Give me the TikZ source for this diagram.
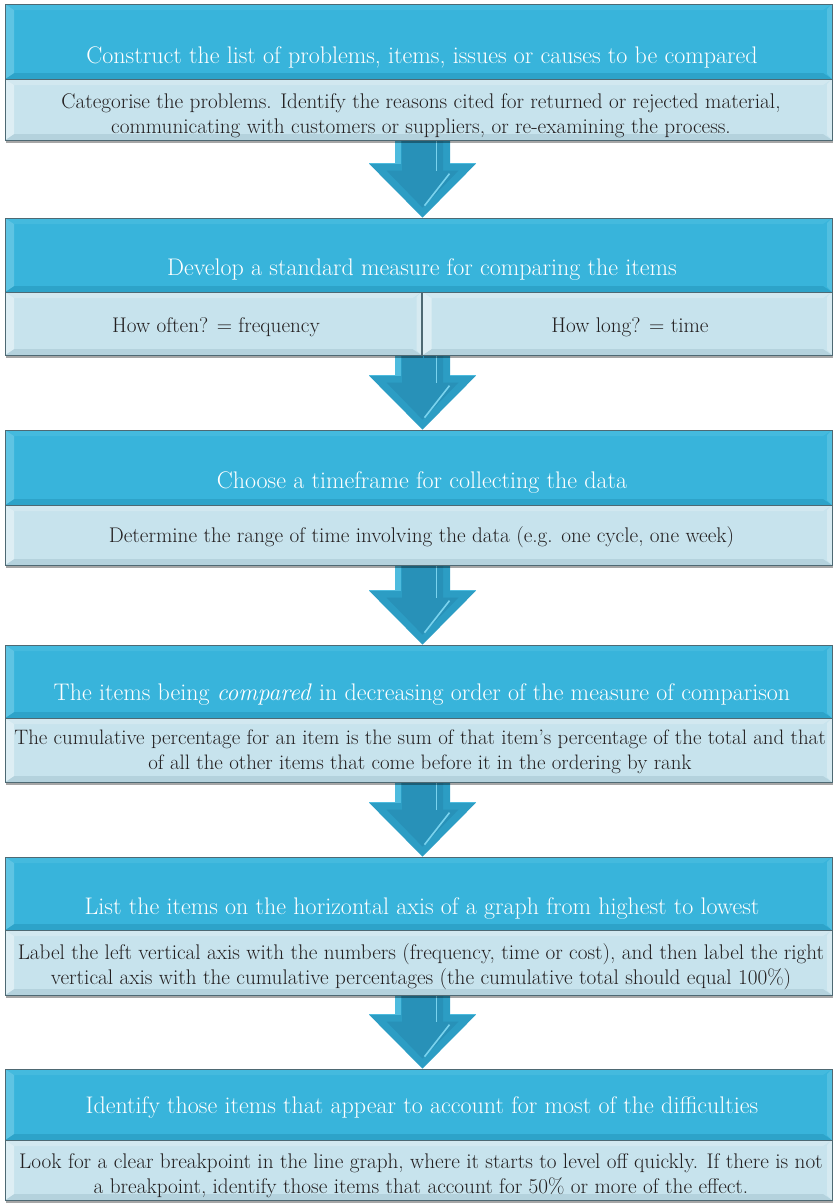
\documentclass[tikz,border=0pt]{standalone}
\usepackage{fontspec}
\setmainfont{Latin Modern Roman}
\usetikzlibrary{calc,shadows,backgrounds}

\definecolor{Hbase}{HTML}{38B4DB}
\definecolor{Hlight}{HTML}{5EC4E3}
\definecolor{Htop}{HTML}{44BADE}
\definecolor{Hdark}{HTML}{2DA3C9}
\definecolor{Sbase}{HTML}{C7E3ED}
\definecolor{Slight}{HTML}{DDEEF4}
\definecolor{Stop}{HTML}{D2E8F0}
\definecolor{Sdark}{HTML}{B4D2DD}
\definecolor{edge}{HTML}{4E6973}
\definecolor{subtext}{HTML}{231F20}
\definecolor{Abase}{HTML}{2C9DC4}
\definecolor{Ainner}{HTML}{2891B8}
\definecolor{Alight}{HTML}{4DBBDE}
\definecolor{Ahigh}{HTML}{7AD3EE}

% bevelled edges of a panel: #1 side colour, #2 top colour, #3 bottom colour
\tikzset{
  bevel/.style n args={3}{path picture={
    \path (path picture bounding box.north west) coordinate (pnw)
          (path picture bounding box.north east) coordinate (pne)
          (path picture bounding box.south west) coordinate (psw)
          (path picture bounding box.south east) coordinate (pse);
    \fill[#2] (pnw) -- (pne) -- ($(pne)+(-9pt,-6pt)$) -- ($(pnw)+(9pt,-6pt)$) -- cycle;
    \fill[#3] (psw) -- (pse) -- ($(pse)+(-9pt,6pt)$) -- ($(psw)+(9pt,6pt)$) -- cycle;
    \fill[#1] (pnw) -- ($(pnw)+(9pt,-6pt)$) -- ($(psw)+(9pt,6pt)$) -- (psw) -- cycle;
    \fill[#1,opacity=0.7] (pne) -- (pse) -- ($(pse)+(-5pt,5pt)$) -- ($(pne)+(-5pt,-5pt)$) -- cycle;
  }},
  panel/.style={rectangle, draw=edge, line width=0.7pt, inner sep=0pt,
    minimum width=827pt,
    drop shadow={shadow xshift=1pt, shadow yshift=-2.5pt, opacity=0.35, fill=black}},
  hdr/.style={panel, fill=Hbase, bevel={Hlight}{Htop}{Hdark}},
  subbox/.style={panel, fill=Sbase, bevel={Slight}{Stop}{Sdark}},
  ttl/.style={text=white, font=\fontsize{24pt}{28pt}\selectfont, inner sep=0pt},
  txt/.style={text=subtext, font=\fontsize{21.2pt}{25pt}\selectfont, align=center, inner sep=0pt},
}

% block arrow whose tip touches the top of panel #1
\newcommand{\flowarrow}[1]{%
  \begin{scope}[shift={($(#1.north)+(4pt,0)$)}]
    \fill[Abase] (-27.5,-95) -- (27.5,-95) -- (27.5,-54) -- (53.5,-54) -- (0,0)
      -- (-53.5,-54) -- (-27.5,-54) -- cycle;
    \fill[Ainner] (-20.5,-95) -- (20.5,-95) -- (20.5,-47) -- (36,-47) -- (0,-10)
      -- (-36,-47) -- (-20.5,-47) -- cycle;
    \fill[Alight] (-27.5,-95) rectangle (-21.5,-54);
    \draw[Ahigh, line width=1.6pt] (14,-95) -- (14,-47);
    \draw[Ahigh, line width=1.6pt] (27,-44) -- (2,-12);
    \draw[Alight, line width=1pt] (-53.5,-54) -- (-27.5,-54);
    \draw[Alight, line width=1pt] (27.5,-54) -- (53.5,-54);
  \end{scope}}

\begin{document}
\begin{tikzpicture}[x=1pt,y=-1pt]
\useasboundingbox (0,0) rectangle (833,1203);

% step 1
\node[hdr, minimum height=75pt] (h1) at (418.5,41.5) {};
\node[subbox, minimum height=61pt] (s1) at (418.5,109.5) {};
\node[ttl] (t1) at (422,57) {Construct the list of problems, items, issues or causes to be compared};
\node[txt] (d1) at (421,116) {Categorise the problems. Identify the reasons cited for returned or rejected material,\\
  communicating with customers or suppliers, or re-examining the process.};

% step 2
\node[hdr, minimum height=74pt] (h2) at (418.5,255) {};
\node[subbox, minimum width=416.5pt, minimum height=63pt] (s2a) at (213.25,323.5) {};
\node[subbox, minimum width=409.5pt, minimum height=63pt] (s2b) at (627.25,323.5) {};
\node[ttl] (t2) at (422,270) {Develop a standard measure for comparing the items};
\node[txt] (d2a) at (216,327) {How often? = frequency};
\node[txt] (d2b) at (630,327) {How long? = time};

% step 3
\node[hdr, minimum height=75pt] (h3) at (418.5,467.5) {};
\node[subbox, minimum height=60pt] (s3) at (418.5,535) {};
\node[ttl] (t3) at (422,483) {Choose a timeframe for collecting the data};
\node[txt] (d3) at (421.5,537) {Determine the range of time involving the data (e.g. one cycle, one week)};

% step 4
\node[hdr, minimum height=73pt] (h4) at (418.5,681.5) {};
\node[subbox, minimum height=64pt] (s4) at (418.5,750) {};
\node[ttl] (t4) at (422,695) {The items being \textit{compared} in decreasing order of the measure of comparison};
\node[txt, font=\fontsize{20.9pt}{24.5pt}\selectfont] (d4) at (420,752) {The cumulative percentage for an item is the sum of that item’s percentage of the total and that\\
  of all the other items that come before it in the ordering by rank};

% step 5
\node[hdr, minimum height=73pt] (h5) at (418.5,893.5) {};
\node[subbox, minimum height=65pt] (s5) at (418.5,962.5) {};
\node[ttl] (t5) at (422,909) {List the items on the horizontal axis of a graph from highest to lowest};
\node[txt] (d5) at (421,966.5) {Label the left vertical axis with the numbers (frequency, time or cost), and then label the right\\
  vertical axis with the cumulative percentages (the cumulative total should equal 100\%)};

% step 6
\node[hdr, minimum height=71pt] (h6) at (418.5,1104.5) {};
\node[subbox, minimum height=60pt] (s6) at (418.5,1170) {};
\node[ttl] (t6) at (422,1107) {Identify those items that appear to account for most of the difficulties};
\node[txt] (d6) at (421,1175.5) {Look for a clear breakpoint in the line graph, where it starts to level off quickly. If there is not\\
  a breakpoint, identify those items that account for 50\% or more of the effect.};

% arrows between the steps, behind the panels
\begin{pgfonlayer}{background}
  \fill[white] (0,0) rectangle (833,1203);
  \flowarrow{h2}
  \flowarrow{h3}
  \flowarrow{h4}
  \flowarrow{h5}
  \flowarrow{h6}
\end{pgfonlayer}
\end{tikzpicture}
\end{document}
